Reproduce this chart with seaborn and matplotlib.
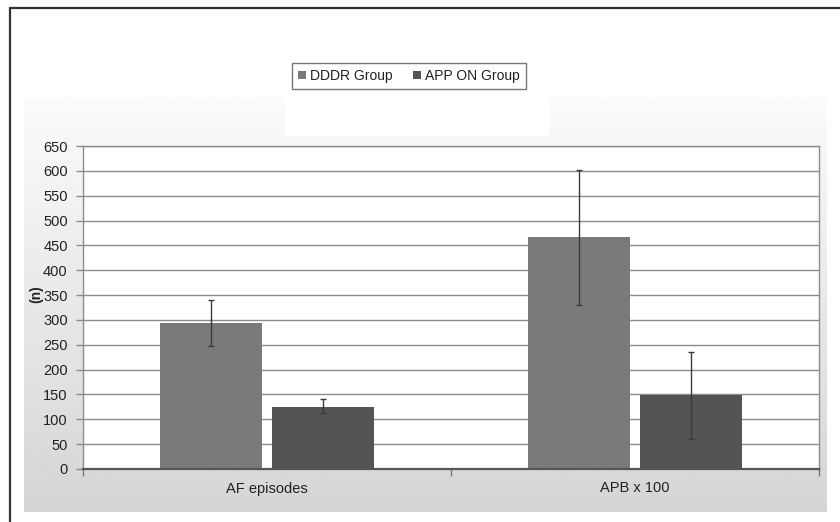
import numpy as np
import pandas as pd
import matplotlib
matplotlib.use("Agg")
import matplotlib.pyplot as plt
from matplotlib.lines import Line2D
from matplotlib.patches import Rectangle
import seaborn as sns

# ---- data ----
categories = ["AF episodes", "APB x 100"]
groups = ["DDDR Group", "APP ON Group"]
dddr_values = [293, 467]
app_values = [125, 148]
dddr_err_low = [247, 331]
dddr_err_high = [340, 602]
app_err_low = [113, 61]
app_err_high = [141, 235]
y_ticks = list(range(0, 651, 50))

colors = {"DDDR Group": "#7a7a7a", "APP ON Group": "#545454"}

df = pd.DataFrame({
    "category": categories * 2,
    "group": [groups[0]] * 2 + [groups[1]] * 2,
    "value": dddr_values + app_values,
    "low": dddr_err_low + app_err_low,
    "high": dddr_err_high + app_err_high,
})

sns.set_style("white")
plt.rcParams["font.family"] = ["Liberation Sans", "DejaVu Sans"]

W, H = 840, 522
fig = plt.figure(figsize=(W / 100, H / 100), dpi=100)
fig.patch.set_facecolor("white")

# gradient background panel
bg = fig.add_axes([24 / W, (H - 512) / H, (827 - 24) / W, (512 - 97) / H], zorder=-2)
grad = np.linspace(0.985, 0.835, 256).reshape(-1, 1)
bg.imshow(grad, aspect="auto", cmap="gray", vmin=0, vmax=1, extent=[0, 1, 0, 1])
bg.add_patch(Rectangle(((285 - 24) / 803, 1 - (135 - 97) / 415), (548 - 285) / 803,
                       (135 - 97) / 415, color="white", transform=bg.transAxes, zorder=3))
bg.set_axis_off()

ax = fig.add_axes([83 / W, (H - 469) / H, (819 - 83) / W, (469 - 146) / H])
ax.set_facecolor("white")

sns.barplot(data=df, x="category", y="value", hue="group", hue_order=groups,
            order=categories, palette=colors, width=0.608, gap=0.095,
            errorbar=None, ax=ax, legend=True, edgecolor="none", zorder=2)

# error bars from bar patches
for patch in ax.patches:
    h = patch.get_height()
    if h <= 0 or patch.get_width() == 0:
        continue
    xc = patch.get_x() + patch.get_width() / 2
    ci = int(round(xc))
    cat = categories[ci]
    grp = groups[0] if xc < ci else groups[1]
    row = df[(df.category == cat) & (df.group == grp)].iloc[0]
    ax.errorbar(xc, row.value, yerr=[[row.value - row.low], [row.high - row.value]],
                fmt="none", ecolor="#3a3a3a", elinewidth=1.0, capsize=2.5,
                capthick=1.0, zorder=3)

ax.set_ylim(0, 650)
ax.set_xlim(-0.5, 1.5)
ax.set_yticks(y_ticks)
ax.set_yticklabels([str(t) for t in y_ticks], fontsize=10.5, color="#222222")
ax.tick_params(axis="y", length=5, width=1, color="#8c8c8c", pad=6, left=True)
ax.tick_params(axis="x", length=0, labelsize=10.5, labelcolor="#222222", pad=9)
ax.set_xticks([-0.5, 0.5, 1.5], minor=True)
ax.tick_params(axis="x", which="minor", length=5, width=1, color="#777777", bottom=True)
ax.grid(axis="y", color="#8c8c8c", linewidth=1.0, zorder=0)
ax.set_axisbelow(True)
ax.set_xlabel("")
ax.set_ylabel("(n)", fontsize=10, fontweight="bold", color="#222222")
ax.yaxis.set_label_coords(-0.054, 0.54)
for side in ["left", "right", "top"]:
    ax.spines[side].set_color("#8c8c8c")
    ax.spines[side].set_linewidth(1.0)
ax.spines["bottom"].set_color("#555555")
ax.spines["bottom"].set_linewidth(1.6)

# legend
handles, labels = ax.get_legend_handles_labels()
ax.legend_.remove() if ax.legend_ else None
leg = fig.legend(handles, labels, loc="center", bbox_to_anchor=(409 / W, 1 - 76 / H),
                 ncol=2, fontsize=10, frameon=True, fancybox=False,
                 handlelength=0.55, handleheight=0.55, handletextpad=0.3,
                 columnspacing=1.5, borderpad=0.45, borderaxespad=0,
                 edgecolor="#555555")
leg.get_frame().set_linewidth(1.0)
for t in leg.get_texts():
    t.set_color("#222222")

# outer frame lines
fig.add_artist(Line2D([10 / W, 1], [1 - 8 / H, 1 - 8 / H], transform=fig.transFigure,
                      color="#333333", lw=1.6))
fig.add_artist(Line2D([10 / W, 10 / W], [0, 1 - 8 / H], transform=fig.transFigure,
                      color="#333333", lw=1.6))

fig.savefig("out.png", dpi=100)
